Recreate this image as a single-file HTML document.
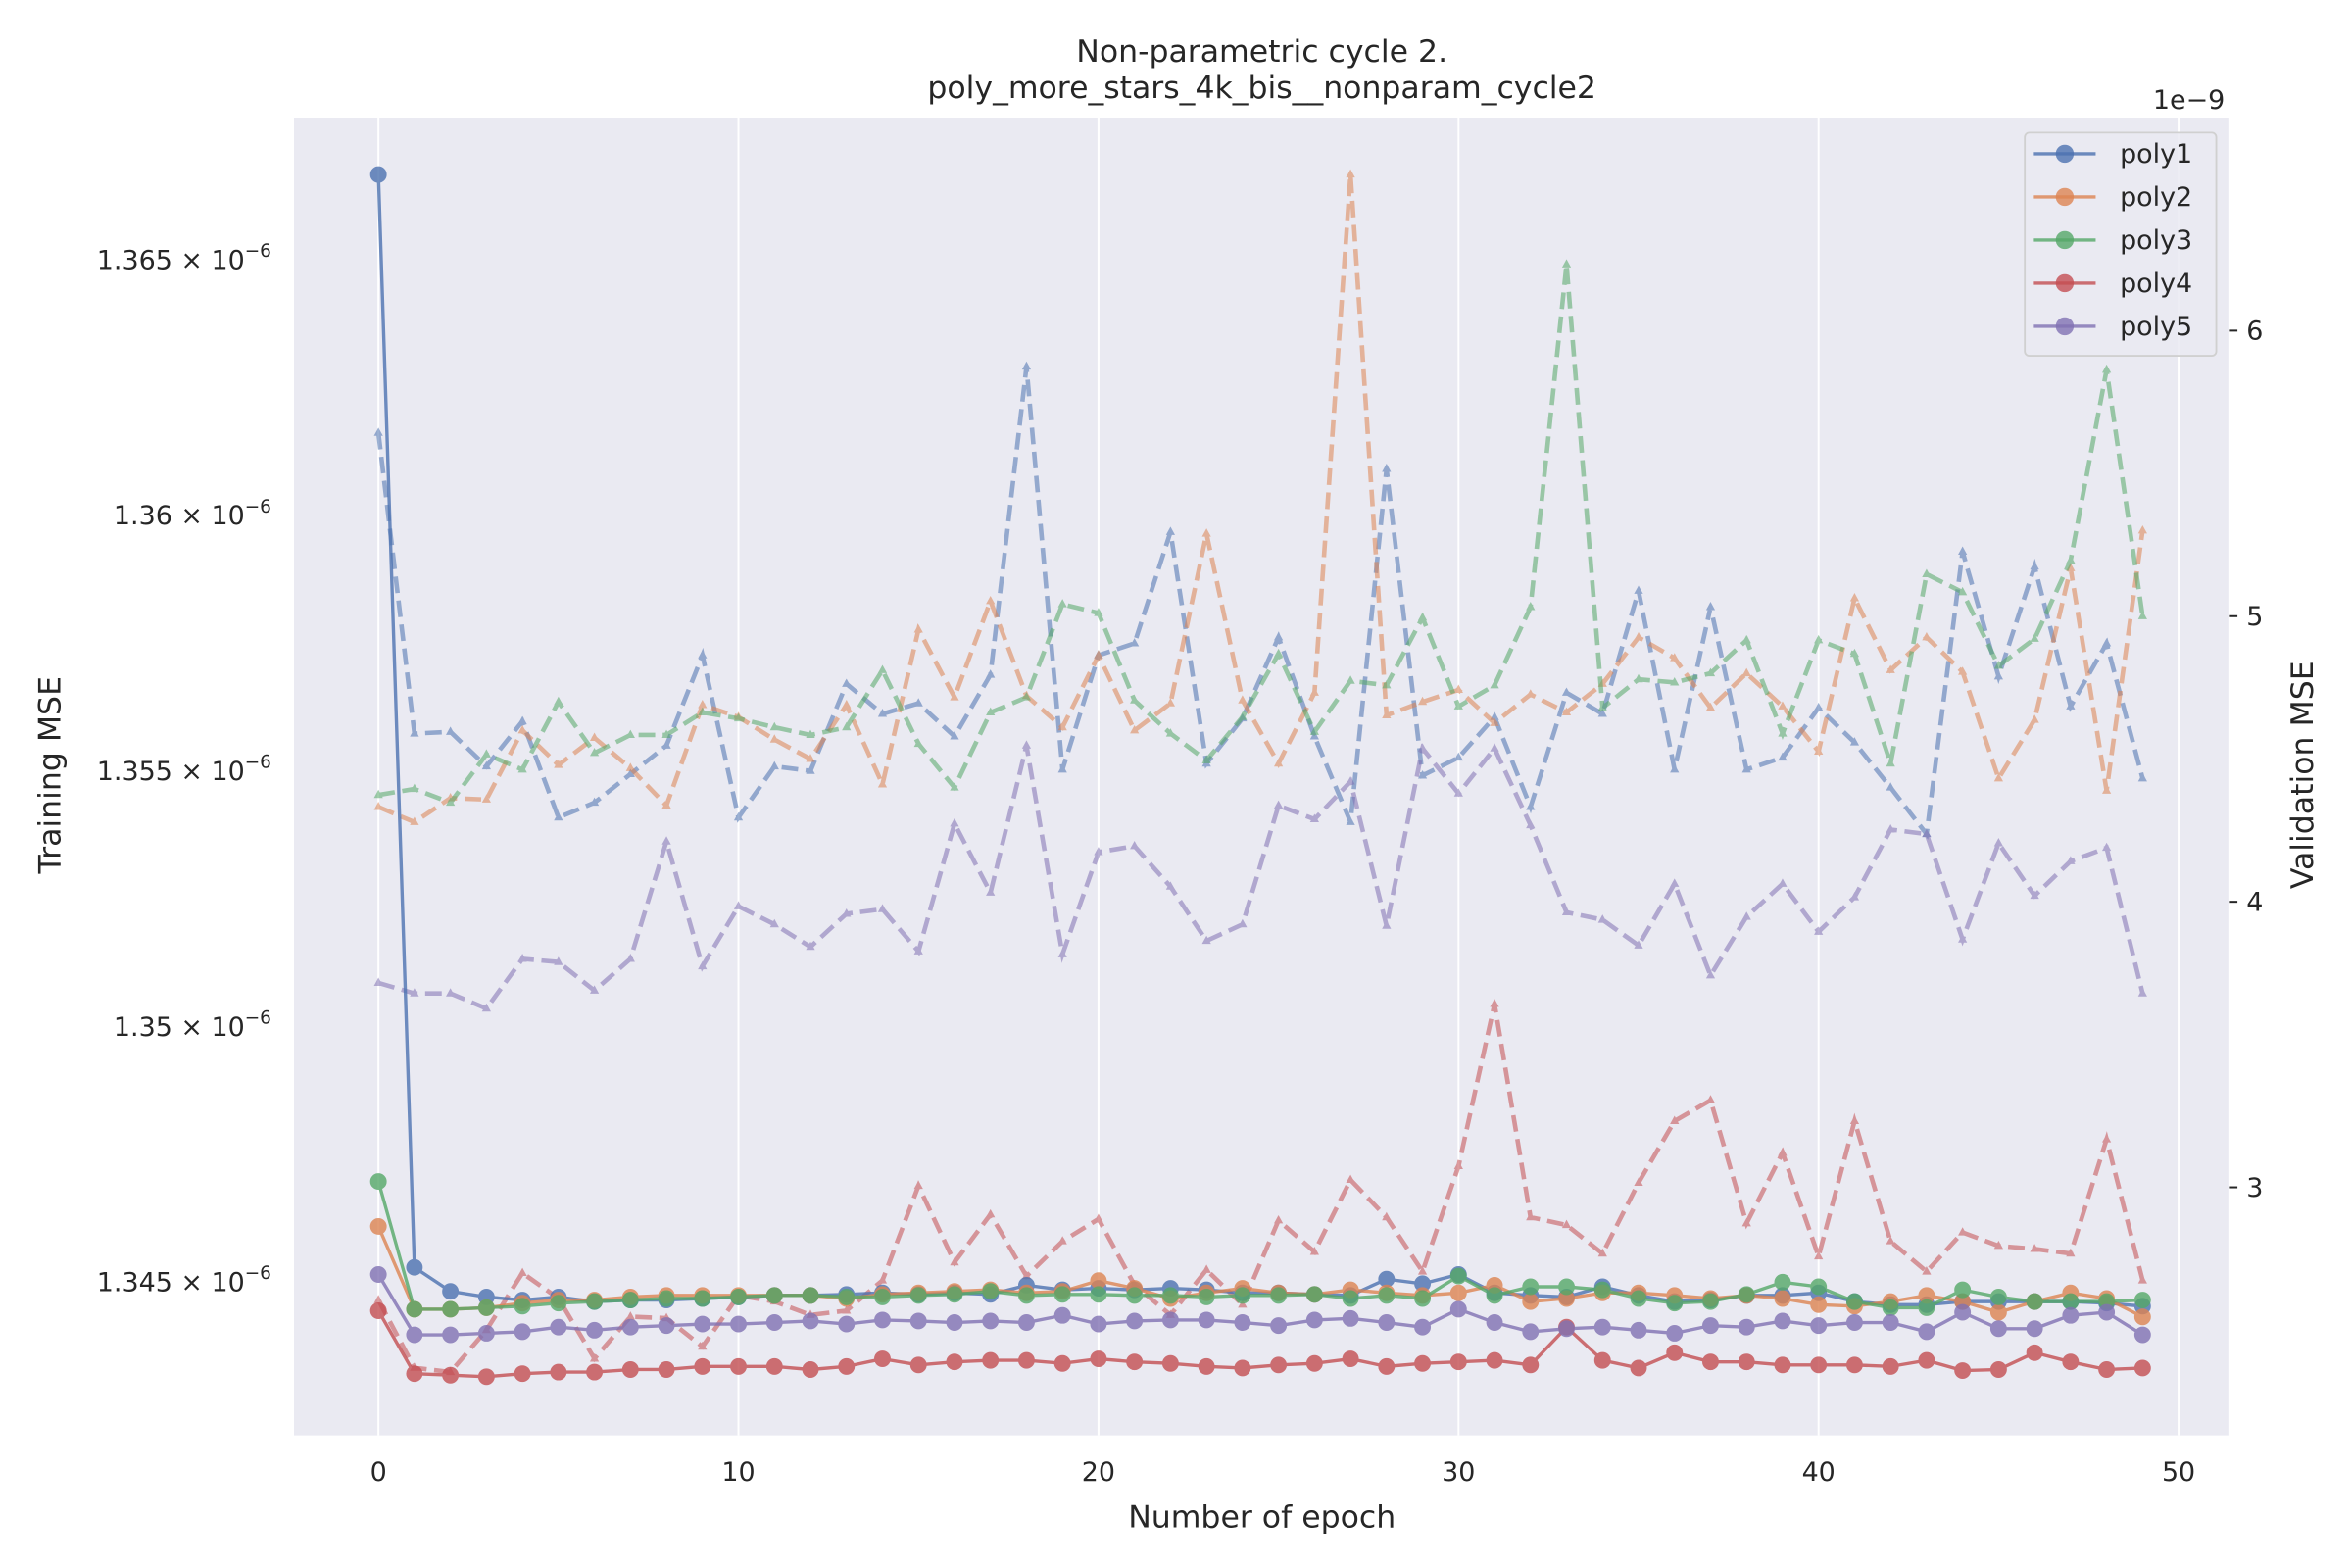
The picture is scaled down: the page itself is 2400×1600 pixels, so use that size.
<!DOCTYPE html>
<html><head><meta charset="utf-8"><style>
html,body{margin:0;padding:0;background:#fff}
svg{display:block;font-family:"DejaVu Sans","Liberation Sans",sans-serif}
</style></head><body>
<svg id="chart" width="2400" height="1600" viewBox="0 0 1560 1040" xmlns="http://www.w3.org/2000/svg">
<rect x="195" y="78" width="1283" height="874" fill="#eaeaf2"/>
<g id="grid"></g>
<g id="series"></g>
<g id="axes"></g>
<text x="837" y="41" text-anchor="middle" font-size="20.5" fill="#262626">Non-parametric cycle 2.</text>
<text x="837" y="65" text-anchor="middle" font-size="20.5" fill="#262626">poly_more_stars_4k_bis__nonparam_cycle2</text>
<text x="837" y="1013" text-anchor="middle" font-size="20.5" fill="#262626">Number of epoch</text>
<text transform="translate(40,514) rotate(-90)" text-anchor="middle" font-size="20.5" fill="#262626">Training MSE</text>
<text transform="translate(1534,514) rotate(-90)" text-anchor="middle" font-size="20.5" fill="#262626">Validation MSE</text>
<text x="1428" y="72" font-size="17.5" fill="#262626">1e−9</text>
<g id="legend"></g>
</svg>
<script>
const epochs = Array.from({length:50},(_,i)=>i);
const names = ["poly1","poly2","poly3","poly4","poly5"];
const colors = ["#4c72b0","#dd8452","#55a868","#c44e52","#8172b3"];
const xTicks = [0,10,20,30,40,50];
const leftTicks = [1.345,1.350,1.355,1.360,1.365];
const leftTickLabels = ["1.345","1.35","1.355","1.36","1.365"];
const rightTicks = [3,4,5,6];
// training MSE (units 1e-6)
const train1 = [1.36667,1.34529,1.34482,1.34471,1.34465,1.34471,1.34462,1.34465,1.34465,1.34468,1.34471,1.34474,1.34474,1.34476,1.34479,1.34476,1.34479,1.34476,1.34494,1.34485,1.34488,1.34485,1.34488,1.34485,1.34479,1.34479,1.34476,1.34474,1.34506,1.34497,1.34515,1.34479,1.34474,1.34471,1.34491,1.34474,1.34462,1.34465,1.34474,1.34474,1.34479,1.34462,1.34456,1.34456,1.34462,1.34462,1.34462,1.34462,1.34459,1.34453];
const train2 = [1.34609,1.34447,1.34447,1.34450,1.34459,1.34465,1.34465,1.34471,1.34474,1.34474,1.34474,1.34474,1.34474,1.34468,1.34476,1.34479,1.34482,1.34485,1.34479,1.34482,1.34503,1.34488,1.34468,1.34479,1.34488,1.34479,1.34476,1.34485,1.34479,1.34474,1.34479,1.34494,1.34462,1.34468,1.34479,1.34479,1.34474,1.34468,1.34474,1.34468,1.34456,1.34453,1.34462,1.34474,1.34462,1.34441,1.34462,1.34479,1.34468,1.34432];
const train3 = [1.34697,1.34447,1.34447,1.34450,1.34453,1.34459,1.34462,1.34465,1.34468,1.34468,1.34471,1.34474,1.34474,1.34471,1.34471,1.34474,1.34476,1.34482,1.34474,1.34476,1.34476,1.34474,1.34474,1.34471,1.34474,1.34474,1.34476,1.34468,1.34474,1.34468,1.34512,1.34474,1.34491,1.34491,1.34485,1.34468,1.34459,1.34462,1.34476,1.34500,1.34491,1.34462,1.34450,1.34450,1.34485,1.34471,1.34462,1.34462,1.34462,1.34465];
const train4 = [1.34444,1.34321,1.34318,1.34315,1.34321,1.34324,1.34324,1.34329,1.34329,1.34335,1.34335,1.34335,1.34329,1.34335,1.34350,1.34338,1.34344,1.34347,1.34347,1.34341,1.34350,1.34344,1.34341,1.34335,1.34332,1.34338,1.34341,1.34350,1.34335,1.34341,1.34344,1.34347,1.34338,1.34412,1.34347,1.34332,1.34362,1.34344,1.34344,1.34338,1.34338,1.34338,1.34335,1.34347,1.34327,1.34329,1.34362,1.34344,1.34329,1.34332];
const train5 = [1.34515,1.34397,1.34397,1.34400,1.34403,1.34412,1.34406,1.34412,1.34415,1.34418,1.34418,1.34421,1.34424,1.34418,1.34426,1.34424,1.34421,1.34424,1.34421,1.34435,1.34418,1.34424,1.34426,1.34426,1.34421,1.34415,1.34426,1.34429,1.34421,1.34412,1.34447,1.34421,1.34403,1.34409,1.34412,1.34406,1.34400,1.34415,1.34412,1.34424,1.34415,1.34421,1.34421,1.34403,1.34441,1.34409,1.34409,1.34435,1.34441,1.34397];
// validation MSE (units 1e-9)
const val1 = [5.642,4.589,4.595,4.474,4.632,4.295,4.347,4.447,4.547,4.863,4.295,4.474,4.458,4.763,4.658,4.695,4.579,4.795,5.874,4.463,4.863,4.905,5.295,4.484,4.642,4.926,4.579,4.279,5.516,4.442,4.505,4.647,4.332,4.732,4.658,5.089,4.463,5.032,4.463,4.505,4.679,4.558,4.400,4.237,5.226,4.789,5.174,4.684,4.905,4.432];
const val2 = [4.332,4.279,4.363,4.358,4.600,4.479,4.574,4.468,4.337,4.689,4.647,4.568,4.500,4.689,4.411,4.953,4.716,5.053,4.721,4.611,4.863,4.600,4.695,5.289,4.705,4.484,4.732,6.547,4.653,4.700,4.742,4.626,4.726,4.663,4.763,4.926,4.853,4.679,4.800,4.684,4.526,5.063,4.811,4.926,4.805,4.432,4.637,5.168,4.389,5.300];
const val3 = [4.374,4.395,4.347,4.516,4.463,4.700,4.521,4.584,4.584,4.663,4.642,4.611,4.584,4.611,4.811,4.553,4.400,4.663,4.716,5.042,5.011,4.705,4.589,4.495,4.647,4.868,4.595,4.774,4.758,4.995,4.684,4.758,5.032,6.232,4.679,4.779,4.768,4.800,4.916,4.589,4.916,4.868,4.484,5.147,5.084,4.826,4.921,5.195,5.863,5.000];
const val4 = [2.605,2.368,2.353,2.500,2.700,2.611,2.400,2.547,2.542,2.442,2.621,2.600,2.553,2.568,2.674,3.005,2.737,2.905,2.689,2.811,2.889,2.658,2.553,2.711,2.589,2.884,2.774,3.026,2.895,2.705,3.074,3.642,2.895,2.868,2.768,3.016,3.232,3.305,2.874,3.121,2.758,3.232,2.811,2.705,2.842,2.795,2.784,2.768,3.168,2.674];
const val5 = [3.716,3.679,3.679,3.626,3.800,3.789,3.689,3.800,4.211,3.774,3.984,3.921,3.842,3.958,3.974,3.826,4.274,4.032,4.547,3.816,4.174,4.195,4.053,3.863,3.921,4.337,4.289,4.421,3.916,4.537,4.379,4.537,4.268,3.963,3.937,3.847,4.063,3.742,3.947,4.063,3.895,4.016,4.253,4.237,3.868,4.205,4.021,4.142,4.189,3.679];

const trains=[train1,train2,train3,train4,train5];
const vals=[val1,val2,val3,val4,val5];
const NS="http://www.w3.org/2000/svg";
const X0=195,X1=1478,Y0=78,Y1=952;
const xs=v=>251+(v-0)*(1445-251)/50;
const yl=v=>850.4-(v-1.345)*(169.5/0.005);
const yr=v=>219.3+(6-v)*189.4;
function mk(tag,attrs,parent){const e=document.createElementNS(NS,tag);for(const k in attrs)e.setAttribute(k,attrs[k]);parent.appendChild(e);return e;}
const grid=document.getElementById('grid'),axes=document.getElementById('axes'),ser=document.getElementById('series'),leg=document.getElementById('legend');
xTicks.forEach(t=>{
  const l=mk('line',{x1:xs(t),x2:xs(t),y1:Y0,y2:Y1,stroke:'#fff','stroke-width':1.3},grid);
  
  
  const tx=mk('text',{x:xs(t),y:Y1+30,'text-anchor':'middle','font-size':17.5,fill:'#262626'},axes);
  tx.textContent=t;
  
  
});
leftTicks.forEach((t,i)=>{
  const tx=mk('text',{x:180,y:yl(t)+6,'text-anchor':'end','font-size':17.5,fill:'#262626'},axes);
  tx.innerHTML=leftTickLabels[i]+' × 10<tspan dy="-8" font-size="12">−6</tspan>';
  
  
});
rightTicks.forEach(t=>{
  const l=mk('line',{x1:X1+1,x2:X1+6,y1:yr(t),y2:yr(t),stroke:'#262626','stroke-width':1.3},axes);
  
  
  const tx=mk('text',{x:X1+12,y:yr(t)+6,'font-size':17.5,fill:'#262626'},axes);
  tx.textContent=t;
  
  
});
// validation (dashed)
vals.forEach((arr,s)=>{
  const g=mk('g',{opacity:0.55},ser);
  
  
  const pts=arr.map((v,i)=>xs(epochs[i])+','+yr(v)).join(' ');
  const pl=mk('polyline',{points:pts,fill:'none',stroke:colors[s],'stroke-width':3,'stroke-dasharray':'11,5'},g);
  
  
  arr.forEach((v,i)=>{const x=xs(epochs[i]),y=yr(v);
    const m=mk('polygon',{points:`${x},${y-3.5} ${x-3},${y+2} ${x+3},${y+2}`,fill:colors[s]},g);
    
    });
});
// training (solid)
trains.forEach((arr,s)=>{
  const g=mk('g',{opacity:0.8},ser);
  
  
  const pts=arr.map((v,i)=>xs(epochs[i])+','+yl(v)).join(' ');
  const pl=mk('polyline',{points:pts,fill:'none',stroke:colors[s],'stroke-width':2.2},g);
  
  
  arr.forEach((v,i)=>{
    const c=mk('circle',{cx:xs(epochs[i]),cy:yl(v),r:5,fill:colors[s],stroke:colors[s],'stroke-width':1},g);
    
    });
});
// legend
const lb=mk('rect',{x:1343,y:88,width:127,height:148,rx:3,fill:'#eaeaf2','fill-opacity':0.85,stroke:'#d0d0d0','stroke-width':1.2},leg);


names.forEach((n,i)=>{
  const y=102+i*28.6;
  const g=mk('g',{},leg);
  
  
  mk('line',{x1:1349,x2:1390,y1:y,y2:y,stroke:colors[i],'stroke-width':2.2,opacity:0.8},g);
  mk('circle',{cx:1369.5,cy:y,r:6,fill:colors[i],opacity:0.8},g);
  const t=mk('text',{x:1406,y:y+6,'font-size':17.5,fill:'#262626'},g);
  t.textContent=n;
});
</script>
</body></html>
